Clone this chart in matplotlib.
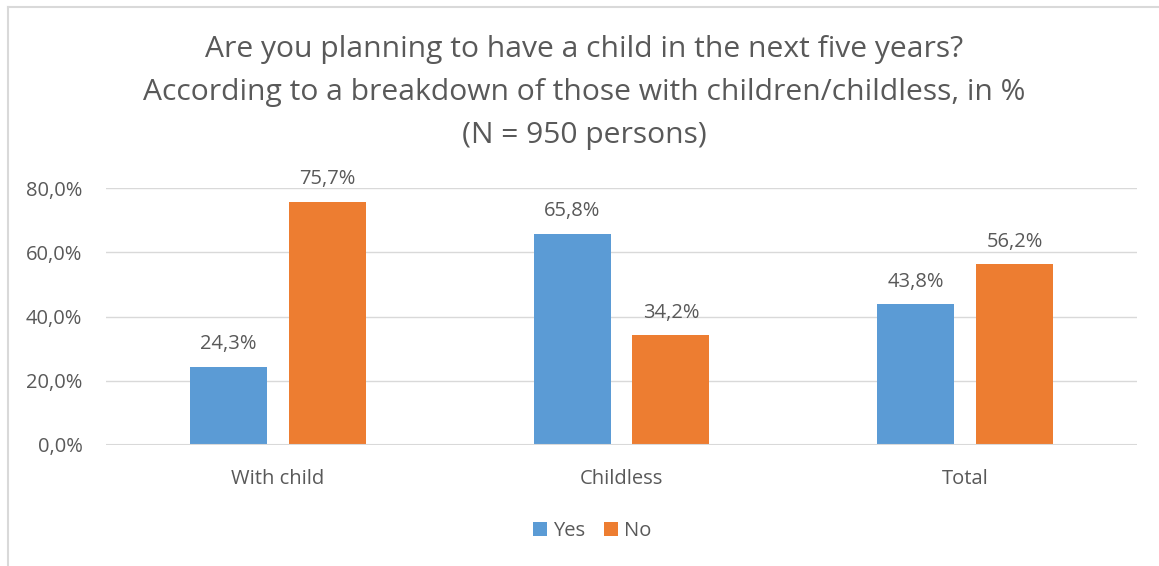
import matplotlib
matplotlib.use("Agg")
import matplotlib.pyplot as plt
from matplotlib.patches import Patch
from matplotlib.lines import Line2D
import numpy as np

categories = ["With child", "Childless", "Total"]
yes_values = [24.3, 65.8, 43.8]
no_values = [75.7, 34.2, 56.2]
series_names = ["Yes", "No"]
y_ticks = [0, 20, 40, 60, 80]

BLUE = "#5B9BD5"
ORANGE = "#ED7D31"
TEXT = "#595959"
GRID = "#D9D9D9"

plt.rcParams["font.family"] = ["Open Sans", "DejaVu Sans"]

fig = plt.figure(figsize=(11.59, 5.66), dpi=100)
ax = fig.add_axes([0.0915, 0.2138, 0.8895, 0.454])

x = np.arange(len(categories))
w = 0.224
off = 0.1435
b1 = ax.bar(x - off, yes_values, w, color=BLUE, zorder=3)
b2 = ax.bar(x + off, no_values, w, color=ORANGE, zorder=3)

def fmt(v):
    return f"{v:.1f}%".replace(".", ",")

for bars, vals in ((b1, yes_values), (b2, no_values)):
    for r, v in zip(bars, vals):
        ax.annotate(fmt(v), (r.get_x() + r.get_width() / 2, v),
                    xytext=(0, 9), textcoords="offset points",
                    ha="center", va="bottom", fontsize=14.5, color=TEXT)

ax.set_xlim(-0.5, 2.5)
ax.set_ylim(0, 80)
ax.set_yticks(y_ticks)
ax.set_yticklabels([f"{t:.1f}%".replace(".", ",") for t in y_ticks])
ax.set_xticks(x)
ax.set_xticklabels(categories)
ax.tick_params(axis="both", length=0, labelsize=14.5, labelcolor=TEXT)
ax.tick_params(axis="y", pad=17)
ax.tick_params(axis="x", pad=17)
ax.grid(axis="y", color=GRID, linewidth=1, zorder=0)
for s in ax.spines.values():
    s.set_visible(False)
ax.axhline(0, color=GRID, linewidth=1.5, zorder=4)

fig.text(0.504, 0.938,
         "Are you planning to have a child in the next five years?\n"
         "According to a breakdown of those with children/childless, in %\n"
         "(N = 950 persons)",
         ha="center", va="top", fontsize=21.6, color=TEXT, linespacing=1.64)

handles = [Patch(facecolor=BLUE), Patch(facecolor=ORANGE)]
fig.legend(handles, series_names, loc="center", bbox_to_anchor=(0.511, 0.062),
           ncol=2, frameon=False, fontsize=14.5, labelcolor=TEXT,
           handlelength=0.7, handleheight=0.7, handletextpad=0.3,
           columnspacing=0.9)

# chart area border
fig.add_artist(Line2D([0.0065, 0.0065], [0, 0.988], transform=fig.transFigure,
                      color=GRID, linewidth=1.5))
fig.add_artist(Line2D([0.0065, 1.0], [0.988, 0.988], transform=fig.transFigure,
                      color=GRID, linewidth=1.5))

fig.savefig("out.png", dpi=100)
